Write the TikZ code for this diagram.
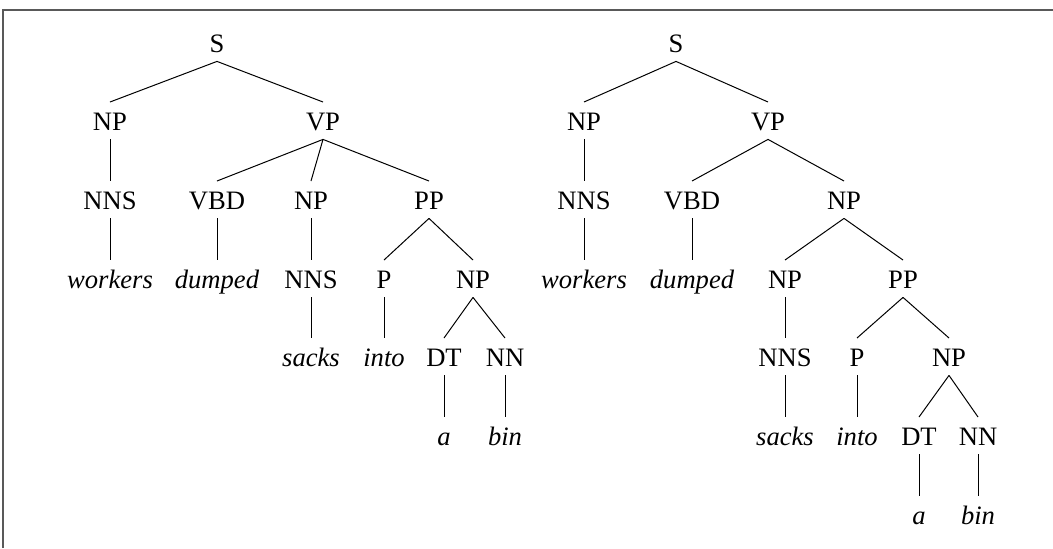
\documentclass[tikz,border=0pt]{standalone}
\usepackage{fontspec}
\setmainfont{Liberation Serif}
\usetikzlibrary{positioning}

\begin{document}
\begin{tikzpicture}[x=0.5pt,y=-0.5pt,
        cat/.style={anchor=base,inner xsep=1pt,inner ysep=0pt,text height=13.8pt,text depth=4.5pt,font=\fontsize{13.3}{15}\selectfont},
        word/.style={cat,font=\fontsize{13.3}{15}\selectfont\itshape},
        branch/.style={line width=0.5pt}]
    \useasboundingbox (0,0) rectangle (1053,548);
    \draw[black!65,line width=1pt] (2.5,548) -- (2.5,9.5) -- (1053,9.5);
    % left tree
    \node[cat] (s) at (217,52) {S};
    \node[cat] (np) at (110,130) {NP};
    \node[cat] (vp) at (323,130) {VP};
    \node[cat] (nns) at (110,209) {NNS};
    \node[cat] (vbd) at (217,209) {VBD};
    \node[cat] (np2) at (311,209) {NP};
    \node[cat] (pp) at (429,209) {PP};
    \node[word] (w1) at (110,288) {workers};
    \node[word] (w2) at (217,288) {dumped};
    \node[cat] (nns2) at (311,288) {NNS};
    \node[cat] (p) at (384,288) {P};
    \node[cat] (np3) at (473,288) {NP};
    \node[word] (w3) at (311,366) {sacks};
    \node[word] (w4) at (384,366) {into};
    \node[cat] (dt) at (444,366) {DT};
    \node[cat] (nn) at (505,366) {NN};
    \node[word] (w5) at (444,445) {a};
    \node[word] (w6) at (505,445) {bin};
    \foreach \a/\b in {s/np,s/vp,np/nns,nns/w1,vp/vbd,vp/np2,vp/pp,vbd/w2,np2/nns2,nns2/w3,
            pp/p,pp/np3,p/w4,np3/dt,np3/nn,dt/w5,nn/w6}
        \draw[branch] (\a.south) -- (\b.north);
    % right tree
    \node[cat] (rs) at (676,52) {S};
    \node[cat] (rnp) at (584,130) {NP};
    \node[cat] (rvp) at (768,130) {VP};
    \node[cat] (rnns) at (584,209) {NNS};
    \node[cat] (rvbd) at (692,209) {VBD};
    \node[cat] (rnp2) at (844,209) {NP};
    \node[word] (rw1) at (584,288) {workers};
    \node[word] (rw2) at (692,288) {dumped};
    \node[cat] (rnp3) at (785,288) {NP};
    \node[cat] (rpp) at (903,288) {PP};
    \node[cat] (rnns2) at (785,366) {NNS};
    \node[cat] (rp) at (857,366) {P};
    \node[cat] (rnp4) at (949,366) {NP};
    \node[word] (rw3) at (785,445) {sacks};
    \node[word] (rw4) at (857,445) {into};
    \node[cat] (rdt) at (919,445) {DT};
    \node[cat] (rnn) at (978,445) {NN};
    \node[word] (rw5) at (919,524) {a};
    \node[word] (rw6) at (978,524) {bin};
    \foreach \a/\b in {rs/rnp,rs/rvp,rnp/rnns,rnns/rw1,rvp/rvbd,rvp/rnp2,rvbd/rw2,rnp2/rnp3,rnp2/rpp,
            rnp3/rnns2,rnns2/rw3,rpp/rp,rpp/rnp4,rp/rw4,rnp4/rdt,rnp4/rnn,rdt/rw5,rnn/rw6}
        \draw[branch] (\a.south) -- (\b.north);
\end{tikzpicture}
\end{document}
